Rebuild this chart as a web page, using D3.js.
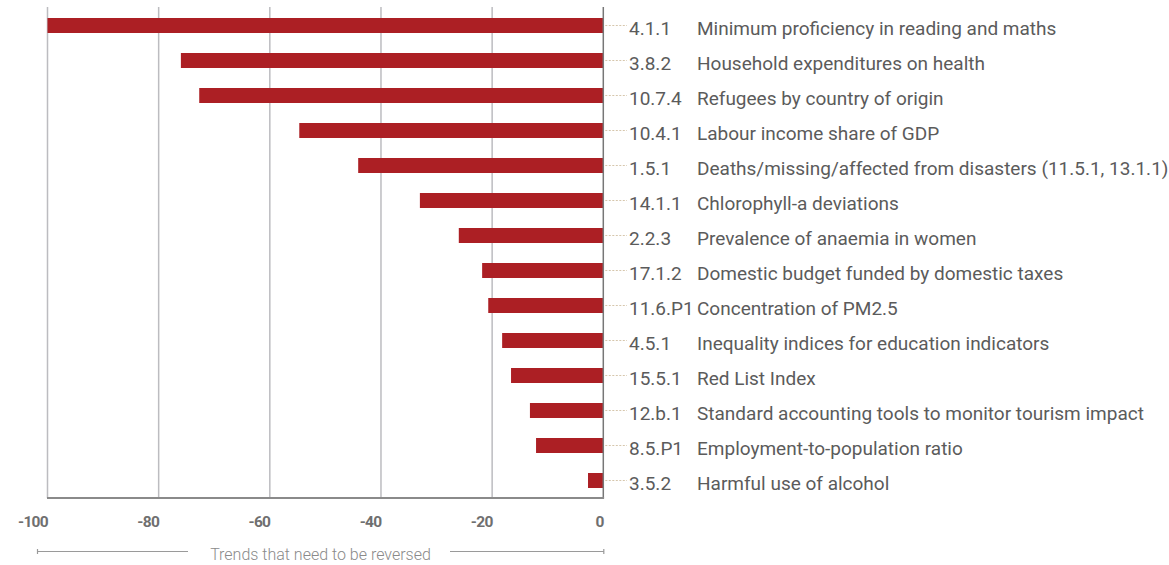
<!DOCTYPE html>
<html>
<head>
<meta charset="utf-8">
<script src="https://cdn.jsdelivr.net/npm/d3@7"></script>
<style>
  body { margin: 0; background: #fff; }
  svg { font-family: Roboto, 'Liberation Sans', sans-serif; }
</style>
</head>
<body>
<svg id="chart" width="1169" height="565"></svg>
<script>
const codes = ['4.1.1', '3.8.2', '10.7.4', '10.4.1', '1.5.1', '14.1.1', '2.2.3',
  '17.1.2', '11.6.P1', '4.5.1', '15.5.1', '12.b.1', '8.5.P1', '3.5.2'];
const names = [
  'Minimum proficiency in reading and maths',
  'Household expenditures on health',
  'Refugees by country of origin',
  'Labour income share of GDP',
  'Deaths/missing/affected from disasters (11.5.1, 13.1.1)',
  'Chlorophyll-a deviations',
  'Prevalence of anaemia in women',
  'Domestic budget funded by domestic taxes',
  'Concentration of PM2.5',
  'Inequality indices for education indicators',
  'Red List Index',
  'Standard accounting tools to monitor tourism impact',
  'Employment-to-population ratio',
  'Harmful use of alcohol'
];
const values = [-100, -76.0, -72.7, -54.7, -44.1, -33.0, -26.0, -21.8, -20.7, -18.2, -16.6, -13.2, -12.1, -2.75];
const ticks = [-100, -80, -60, -40, -20, 0];
const caption = 'Trends that need to be reversed';

const data = codes.map((c, i) => ({ code: c, name: names[i], value: values[i] }));

const svg = d3.select('#chart');
const margin = { left: 47.5, top: 8, bottom: 498 };
const zeroX = 603.3;

const x = d3.scaleLinear().domain([-100, 0]).range([margin.left, zeroX]);
const y = d3.scaleBand().domain(codes).range([margin.top, margin.bottom]);
const barH = 15;

// gridlines
svg.append('g')
  .selectAll('line')
  .data(ticks.slice(0, -1))
  .join('line')
  .attr('x1', d => x(d)).attr('x2', d => x(d))
  .attr('y1', 7).attr('y2', margin.bottom)
  .style('stroke', '#bcbcc0')
  .style('stroke-width', 1.5);

// bars
svg.append('g')
  .selectAll('rect')
  .data(data)
  .join('rect')
  .attr('x', d => x(d.value))
  .attr('y', d => y(d.code) + (y.bandwidth() - barH) / 2)
  .attr('width', d => x(0) - x(d.value))
  .attr('height', barH)
  .style('fill', '#ac1f24');

// zero line and bottom axis line
svg.append('line')
  .attr('x1', x(0)).attr('x2', x(0))
  .attr('y1', 7).attr('y2', margin.bottom)
  .style('stroke', '#777')
  .style('stroke-width', 1.5);
svg.append('line')
  .attr('x1', x(-100) - 0.5).attr('x2', x(0) + 0.8)
  .attr('y1', margin.bottom).attr('y2', margin.bottom)
  .style('stroke', '#8a8a8a')
  .style('stroke-width', 2);

// tick labels
svg.append('g')
  .selectAll('text')
  .data(ticks)
  .join('text')
  .attr('x', d => x(d) + 0.5)
  .attr('y', 527)
  .attr('text-anchor', 'end')
  .style('font-size', '15.5px')
  .style('font-weight', 700)
  .style('letter-spacing', '-0.7px')
  .style('fill', '#6f6f6f')
  .text(d => d);

// leader lines + labels
const rows = svg.append('g')
  .selectAll('g')
  .data(data)
  .join('g')
  .attr('transform', d => `translate(0, ${y(d.code) + y.bandwidth() / 2})`);

rows.append('line')
  .attr('x1', x(0) + 2).attr('x2', 627)
  .attr('y1', 0).attr('y2', 0)
  .style('stroke', '#d6c6ac')
  .style('stroke-width', 1)
  .style('stroke-dasharray', '2,1.5');

rows.append('text')
  .attr('x', 629)
  .attr('y', 9)
  .style('font-size', '19px')
  .style('fill', '#5b5b5b')
  .text(d => d.code);

rows.append('text')
  .attr('x', 697)
  .attr('y', 9)
  .style('font-size', '19px')
  .style('fill', '#5b5b5b')
  .text(d => d.name);

// caption bracket
const capY = 551.5;
const bracket = svg.append('g').style('stroke', '#9a9a9a').style('stroke-width', 1.2);
bracket.append('line').attr('x1', 37).attr('x2', 188).attr('y1', capY).attr('y2', capY);
bracket.append('line').attr('x1', 37.5).attr('x2', 37.5).attr('y1', capY - 2.5).attr('y2', capY + 2.5);
bracket.append('line').attr('x1', 450).attr('x2', 604).attr('y1', capY).attr('y2', capY);
bracket.append('line').attr('x1', 603.8).attr('x2', 603.8).attr('y1', capY - 2.5).attr('y2', capY + 2.5);

svg.append('text')
  .attr('x', 320.5)
  .attr('y', 559.5)
  .attr('text-anchor', 'middle')
  .style('font-size', '16px')
  .style('font-weight', 300)
  .style('fill', '#8a8a8a')
  .text(caption);
</script>
</body>
</html>
